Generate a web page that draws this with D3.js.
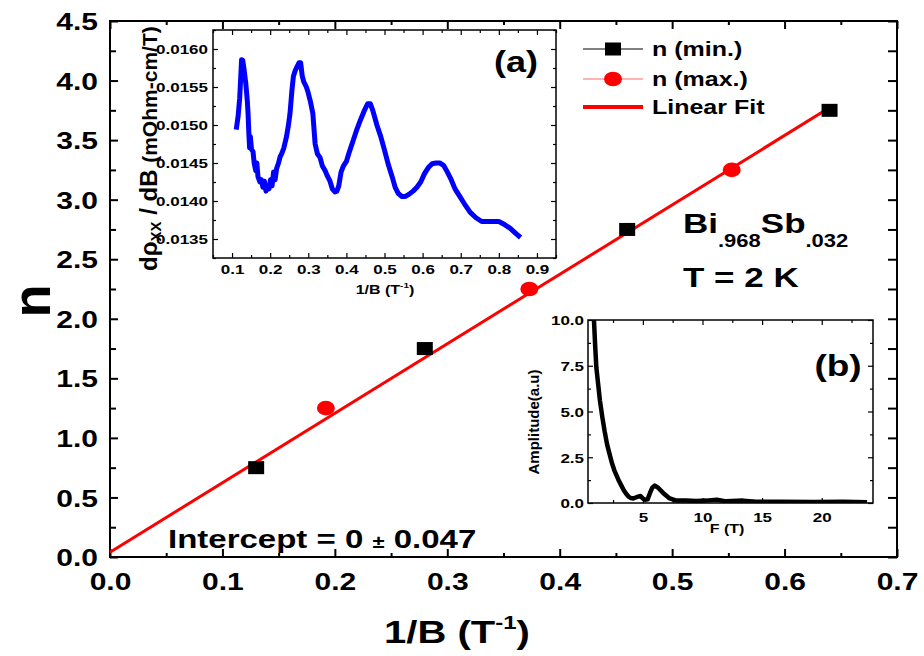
<!DOCTYPE html>
<html><head><meta charset="utf-8">
<script src="https://cdn.jsdelivr.net/npm/d3@7"></script>
<style>
body{margin:0;background:#fff}
svg{display:block}
text{font-family:'Liberation Sans',Arial,sans-serif;font-weight:bold;fill:#000}
</style>
</head><body>
<svg id="c" width="924" height="656"></svg>
<script>
// ---------- data ----------
const nMinX = [0.13, 0.28, 0.46, 0.64];
const nMinY = [0.75, 1.75, 2.75, 3.75];
const nMaxX = [0.192, 0.373, 0.553];
const nMaxY = [1.25, 2.25, 3.25];
const fitX = [0, 0.643];
const fitY = [0.04, 3.79];
const xTicks = [0, 0.1, 0.2, 0.3, 0.4, 0.5, 0.6, 0.7];
const yTicks = [0, 0.5, 1.0, 1.5, 2.0, 2.5, 3.0, 3.5, 4.0, 4.5];

// inset (a): d rho_xx / dB vs 1/B
const aX = [0.111,0.116,0.120,0.123,0.125,0.128,0.131,0.136,0.140,0.142,0.144,0.146,0.148,0.151,0.155,0.158,0.162,0.165,0.168,0.173,0.177,0.181,0.185,0.189,0.193,0.197,0.201,0.205,0.209,0.213,0.217,0.222,0.226,0.230,0.236,0.243,0.248,0.252,0.257,0.261,0.266,0.271,0.276,0.280,0.284,0.288,0.295,0.300,0.306,0.312,0.318,0.324,0.331,0.337,0.344,0.350,0.357,0.363,0.370,0.375,0.380,0.386,0.392,0.400,0.408,0.418,0.428,0.438,0.448,0.456,0.463,0.470,0.480,0.490,0.500,0.510,0.520,0.528,0.536,0.545,0.555,0.565,0.575,0.585,0.595,0.605,0.615,0.625,0.635,0.645,0.655,0.665,0.675,0.685,0.695,0.710,0.725,0.740,0.755,0.770,0.785,0.800,0.815,0.830,0.845,0.857];
const aY = [0.01494,0.01512,0.01535,0.01565,0.01586,0.01585,0.01575,0.01555,0.01532,0.01515,0.01490,0.01470,0.01485,0.01468,0.01465,0.01450,0.01440,0.01450,0.01432,0.01425,0.01428,0.01418,0.01426,0.01413,0.01420,0.01416,0.01428,0.01420,0.01438,0.01428,0.01443,0.01450,0.01458,0.01462,0.01470,0.01485,0.01500,0.01515,0.01545,0.01564,0.01572,0.01577,0.01582,0.01582,0.01565,0.01557,0.01550,0.01542,0.01530,0.01515,0.01475,0.01462,0.01457,0.01446,0.01440,0.01433,0.01426,0.01416,0.01412,0.01413,0.01420,0.01438,0.01446,0.01452,0.01465,0.01480,0.01495,0.01508,0.01520,0.01528,0.01528,0.01518,0.01500,0.01485,0.01467,0.01448,0.01432,0.01418,0.01410,0.01406,0.01406,0.01409,0.01413,0.01418,0.01425,0.01436,0.01444,0.01449,0.01450,0.01450,0.01447,0.01438,0.01428,0.01416,0.01408,0.01396,0.01385,0.01378,0.01373,0.01373,0.01373,0.01373,0.01369,0.01364,0.01357,0.01352];
const aXTicks = [0.1, 0.2, 0.3, 0.4, 0.5, 0.6, 0.7, 0.8, 0.9];
const aYTicks = [0.0135, 0.0140, 0.0145, 0.0150, 0.0155, 0.0160];

// inset (b): FFT amplitude vs F
const bX = [0.9,1.0,1.1,1.25,1.4,1.6,1.8,2.0,2.2,2.4,2.6,2.8,3.0,3.2,3.4,3.6,3.8,4.0,4.2,4.4,4.6,4.8,5.0,5.2,5.4,5.6,5.8,6.0,6.3,6.7,7.2,7.8,8.6,9.5,10.3,11.2,12.0,13.4,14.5,16.5,19.3,21.8,23.8];
const bY = [10.0,8.6,7.4,6.5,5.6,4.7,3.9,3.2,2.7,2.2,1.8,1.5,1.2,0.95,0.7,0.5,0.35,0.27,0.25,0.3,0.35,0.38,0.25,0.18,0.2,0.55,0.85,0.95,0.82,0.55,0.27,0.13,0.13,0.11,0.13,0.18,0.09,0.13,0.07,0.07,0.05,0.07,0.04];
const bXTicks = [5, 10, 15, 20];
const bYTicks = [0, 2.5, 5.0, 7.5, 10.0];

const legendLabels = ["n (min.)", "n (max.)", "Linear Fit"];

// ---------- drawing ----------
const SQ = 0.8; // vertical squash of horizontal text
const svg = d3.select("#c");

function label(x, y, str, size, anchor, opts = {}) {
  const sq = opts.sq ?? SQ;
  const g = svg.append("g").attr("transform",
    `translate(${x},${y}) scale(1,${sq})` + (opts.rot ? ` rotate(${opts.rot})` : ""));
  const t = g.append("text").attr("text-anchor", anchor || "start")
    .style("font-size", size + "px");
  if (opts.dy) t.attr("dy", opts.dy);
  if (typeof str === "string") t.text(str);
  else str.forEach(p => {
    const s = t.append("tspan").text(p.t);
    if (p.size) s.style("font-size", p.size + "px");
    if (p.dy != null) s.attr("dy", p.dy);
  });
  return t;
}

function axisSet(scale, side, pos, vals, size, fmt, sw) {
  const ax = { bottom: d3.axisBottom, top: d3.axisTop, left: d3.axisLeft, right: d3.axisRight }[side](scale)
    .tickValues(vals).tickSize(size).tickFormat(fmt || "");
  const tr = (side === "bottom" || side === "top") ? `translate(0,${pos})` : `translate(${pos},0)`;
  const g = svg.append("g").attr("transform", tr).call(ax);
  g.select(".domain").remove();
  g.selectAll("line").attr("stroke", "#000").attr("stroke-width", sw || 1.5);
  if (!fmt) g.selectAll("text").remove();
  return g;
}
function minors(lo, hi, step) { const r = []; for (let v = lo; v <= hi + 1e-9; v += step) r.push(+v.toFixed(6)); return r; }

// ===== main plot =====
const L = 110, R = 897, T = 21, B = 557;
const x = d3.scaleLinear([0, 0.7], [L, R]);
const y = d3.scaleLinear([0, 4.5], [B, T]);

const xMin = minors(0.05, 0.65, 0.1);
const yMin = minors(0.25, 4.25, 0.5);
const gxb = axisSet(x, "bottom", B, xTicks, -8, d3.format(".1f"), 2);
axisSet(x, "bottom", B, xMin, -4, null, 2);
axisSet(x, "top", T, xTicks, -8, null, 2);
axisSet(x, "top", T, xMin, -4, null, 2);
const gyl = axisSet(y, "left", L, yTicks, -8, d3.format(".1f"), 2);
axisSet(y, "left", L, yMin, -6, null, 2);
axisSet(y, "right", R, yTicks, -9, null, 2);
axisSet(y, "right", R, yMin, -9, null, 2);

gxb.selectAll("text").attr("y", 24 / SQ).attr("dy", "0.36em")
  .attr("transform", `scale(1,${SQ})`).style("font-size", "30px");
gyl.selectAll("text").attr("x", -12).attr("dy", "0.36em")
  .attr("transform", `scale(1,${SQ})`).style("font-size", "30px");

svg.append("rect").attr("x", L).attr("y", T).attr("width", R - L).attr("height", B - T)
  .attr("fill", "none").attr("stroke", "#000").attr("stroke-width", 2);

label(50, 301, "n", 54, "middle", { rot: -90, sq: 1 });
label(457, 643, [{ t: "1/B (T" }, { t: "-1", size: 24, dy: -17 }, { t: ")", size: 40, dy: 17 }], 40, "middle");

// ===== inset (a) =====
const aL = 213, aR = 556, aT = 30, aB = 258;
const ax = d3.scaleLinear([0.05, 0.95], [aL, aR]);
const ay = d3.scaleLinear([0.01325, 0.01625], [aB, aT]);
const aMinX = minors(0.05, 0.95, 0.1);
const aMinY = minors(0.01325, 0.01625, 0.0005);
const gaxb = axisSet(ax, "bottom", aB, aXTicks, -5, d3.format(".1f"), 1.2);
axisSet(ax, "bottom", aB, aMinX, -3, null, 1.2);
axisSet(ax, "top", aT, aXTicks, -5, null, 1.2);
axisSet(ax, "top", aT, aMinX, -3, null, 1.2);
const gayl = axisSet(ay, "left", aL, aYTicks, -5, d3.format(".4f"), 1.2);
axisSet(ay, "left", aL, aMinY, -3, null, 1.2);
axisSet(ay, "right", aR, aYTicks, -5, null, 1.2);
axisSet(ay, "right", aR, aMinY, -3, null, 1.2);
gaxb.selectAll("text").attr("y", 11 / SQ).attr("dy", "0.36em")
  .attr("transform", `scale(1,${SQ})`).style("font-size", "17px");
gayl.selectAll("text").attr("x", -5).attr("dy", "0.36em")
  .attr("transform", `scale(1,${SQ})`).style("font-size", "17px");
svg.append("rect").attr("x", aL).attr("y", aT).attr("width", aR - aL).attr("height", aB - aT)
  .attr("fill", "none").attr("stroke", "#000").attr("stroke-width", 1.5);

svg.append("path").datum(aX.map((d, i) => [d, aY[i]]))
  .attr("fill", "none").attr("stroke", "#0000ff").attr("stroke-width", 5)
  .attr("stroke-linejoin", "round")
  .attr("d", d3.line().x(d => ax(d[0])).y(d => ay(d[1])));

label(516, 72, "(a)", 36, "middle");
label(385, 294, [{ t: "1/B (T" }, { t: "-1", size: 10, dy: -7 }, { t: ")", size: 16, dy: 7 }], 16, "middle");
label(157, 271, [{ t: "dρ" }, { t: "XX", size: 15, dy: 4 }, { t: " / dB ", size: 24, dy: -4 }, { t: "(mOhm-cm/T)", size: 21 }], 24, "start", { rot: -90, sq: 1 });

// ===== inset (b) =====
const bL = 588, bR = 873, bT = 320, bB = 503;
const bx = d3.scaleLinear([0.4, 24.3], [bL, bR]);
const by = d3.scaleLinear([0, 10], [bB, bT]);
const bMinX = [2.5, 7.5, 12.5, 17.5, 22.5];
const bMinY = [1.25, 3.75, 6.25, 8.75];
const gbxb = axisSet(bx, "bottom", bB, bXTicks, -5, d3.format("d"), 1.2);
axisSet(bx, "bottom", bB, bMinX, -3, null, 1.2);
axisSet(bx, "top", bT, bXTicks, -5, null, 1.2);
axisSet(bx, "top", bT, bMinX, -3, null, 1.2);
const gbyl = axisSet(by, "left", bL, bYTicks, -5, d3.format(".1f"), 1.2);
axisSet(by, "left", bL, bMinY, -3, null, 1.2);
axisSet(by, "right", bR, bYTicks, -5, null, 1.2);
axisSet(by, "right", bR, bMinY, -3, null, 1.2);
gbxb.selectAll("text").attr("y", 14 / SQ).attr("dy", "0.36em")
  .attr("transform", `scale(1,${SQ})`).style("font-size", "17px");
gbyl.selectAll("text").attr("x", -4).attr("dy", "0.36em")
  .attr("transform", `scale(1,${SQ})`).style("font-size", "17px");

svg.append("clipPath").attr("id", "bclip").append("rect")
  .attr("x", bL).attr("y", bT).attr("width", bR - bL).attr("height", bB - bT);
svg.append("path").datum(bX.map((d, i) => [d, bY[i]]))
  .attr("clip-path", "url(#bclip)")
  .attr("fill", "none").attr("stroke", "#000").attr("stroke-width", 4.5)
  .attr("stroke-linejoin", "round")
  .attr("d", d3.line().x(d => bx(d[0])).y(d => by(d[1])));
svg.append("rect").attr("x", bL).attr("y", bT).attr("width", bR - bL).attr("height", bB - bT)
  .attr("fill", "none").attr("stroke", "#000").attr("stroke-width", 1.5);

label(838, 376, "(b)", 37, "middle");
label(727, 533, "F (T)", 16, "middle");
label(539, 422, "Amplitude(a.u)", 15, "middle", { rot: -90, sq: 1 });

// ===== main data =====
svg.append("path").datum(fitX.map((d, i) => [d, fitY[i]]))
  .attr("fill", "none").attr("stroke", "#ff0000").attr("stroke-width", 3)
  .attr("d", d3.line().x(d => x(d[0])).y(d => y(d[1])));

svg.selectAll(".sq").data(nMinX.map((d, i) => [d, nMinY[i]])).join("rect")
  .attr("x", d => x(d[0]) - 8).attr("y", d => y(d[1]) - 6.5)
  .attr("width", 16).attr("height", 13).attr("fill", "#000");
svg.selectAll(".ci").data(nMaxX.map((d, i) => [d, nMaxY[i]])).join("ellipse")
  .attr("cx", d => x(d[0])).attr("cy", d => y(d[1]))
  .attr("rx", 9).attr("ry", 7.3).attr("fill", "#ff0000");

// legend
const lg = [49, 79, 107];
svg.append("line").attr("x1", 583).attr("x2", 643).attr("y1", lg[0]).attr("y2", lg[0]).attr("stroke", "#000").attr("stroke-width", 1);
svg.append("rect").attr("x", 605).attr("y", lg[0] - 6.5).attr("width", 16).attr("height", 13).attr("fill", "#000");
svg.append("line").attr("x1", 583).attr("x2", 643).attr("y1", lg[1]).attr("y2", lg[1]).attr("stroke", "#ff6666").attr("stroke-width", 1);
svg.append("ellipse").attr("cx", 613).attr("cy", lg[1]).attr("rx", 9).attr("ry", 7.3).attr("fill", "#ff0000");
svg.append("line").attr("x1", 583).attr("x2", 643).attr("y1", lg[2]).attr("y2", lg[2]).attr("stroke", "#ff0000").attr("stroke-width", 4);
legendLabels.forEach((s, i) => label(652, lg[i], s, 25, "start", { dy: "0.36em" }));

// annotations
label(168, 548, [{ t: "Intercept = 0 " }, { t: "±", size: 22 }, { t: " 0.047", size: 33 }], 33, "start");
label(683, 233, [{ t: "Bi" }, { t: ".968", size: 22, dy: 17 }, { t: "Sb", size: 35, dy: -17 }, { t: ".032", size: 22, dy: 17 }], 35, "start");
label(683, 287, "T = 2 K", 35, "start");
</script>
</body></html>
